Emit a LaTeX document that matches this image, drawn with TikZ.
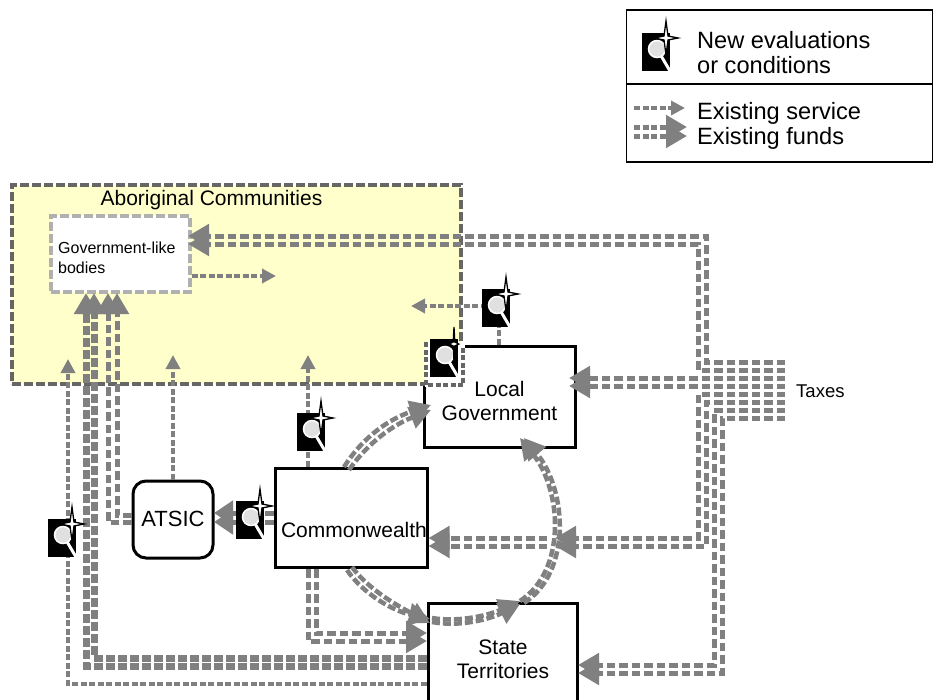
\documentclass[tikz,border=0pt]{standalone}
\usepackage{fontspec}
\setmainfont{Liberation Sans}
\usetikzlibrary{arrows.meta,calc}
\definecolor{flow}{HTML}{808080}
\definecolor{edge}{HTML}{666666}
\definecolor{soft}{HTML}{B0B0B0}
\definecolor{commyellow}{HTML}{FFFFCC}
\def\starw{1}
\tikzset{
  txt/.style={inner sep=0pt,text=black,align=center,font=\fontsize{21}{24}\selectfont},
  smalltxt/.style={inner sep=0pt,text=black,align=left,font=\fontsize{16}{20}\selectfont},
  legtxt/.style={inner sep=0pt,text=black,anchor=base west,font=\fontsize{23.6}{25}\selectfont},
  blackbox/.style={draw=black,fill=white,line width=3pt,inner sep=0pt},
  fund/.style={draw=flow,line width=5pt,dash pattern=on 8.5pt off 4pt,-{Triangle[length=21pt,width=23pt]}},
  heavyfund/.style={fund,line width=7pt,dash pattern=on 8.5pt off 3.5pt},
  curvefund/.style={fund,line width=4.5pt,dash pattern=on 8pt off 3pt,-{Triangle[length=21pt,width=22pt]}},
  service/.style={draw=flow,line width=3.5pt,dash pattern=on 6pt off 2.5pt,-{Triangle[length=14pt,width=14pt]}},
  evalicon/.pic={
    \fill[black] (0,0) rectangle (28,38);
    \draw[white,line width=3pt] (15,16) -- (28,38);
    \fill[black!12,draw=white,line width=1.5pt] (15,16) circle (8.5pt);
    \path[fill=white,draw=black,line width=1.3pt,shift={(24,5)},xscale=\starw]
      (0,-17) -- (2,-2) -- (12,0) -- (2,2) -- (0,17) -- (-2,2) -- (-12,0) -- (-2,-2) -- cycle;
  }
}
\begin{document}
\begin{tikzpicture}[x=1pt,y=-1pt]
\clip (0,0) rectangle (934,699);
\fill[white] (0,0) rectangle (934,699);

% legend
\node[draw=black,line width=1.5pt,minimum width=306pt,minimum height=152pt,inner sep=0pt] (legend) at (779.5,86) {};
\coordinate (divl) at (legend.west |- 0,84);
\coordinate (divr) at (legend.east |- 0,84);
\draw[black,line width=1.5pt] (divl) -- (divr);
\node[legtxt] (lt1) at (697,48) {New evaluations};
\node[legtxt] (lt2) at (697,73) {or conditions};
\node[legtxt] (lt3) at (697,119) {Existing service};
\node[legtxt] (lt4) at (697,144) {Existing funds};
\pic (legicon) at (642,33) {evalicon};
\coordinate (ls1) at (634,108);
\coordinate (le1) at (685,108);
\coordinate (ls2) at (634,127);
\coordinate (le2) at (687,127);
\coordinate (ls3) at (634,136);
\coordinate (le3) at (687,136);
\draw[service] (ls1) -- (le1);
\draw[fund,dash pattern=on 6pt off 2.5pt] (ls2) -- (le2);
\draw[fund,dash pattern=on 6pt off 2.5pt] (ls3) -- (le3);

% local government lies under the community area
\node[blackbox,minimum width=151pt,minimum height=101pt] (lg) at (499.5,396.5) {};

% community area
\node[draw=edge,fill=commyellow,line width=3.5pt,dash pattern=on 9pt off 3pt,minimum width=449pt,minimum height=199pt,inner sep=0pt] (abo) at (236.5,284.5) {};
\node[txt] (abotxt) at (211.5,200) {Aboriginal Communities};
\node[draw=soft,fill=white,line width=3.5pt,dash pattern=on 9pt off 3pt,minimum width=139pt,minimum height=76pt,inner sep=0pt] (gov) at (120.5,254) {};
\node[smalltxt,anchor=base west] (govtxt) at (58,273) {Government-like\\bodies};

% white notch round the icon
\coordinate (na) at (426,342);
\coordinate (nb) at (426,385);
\coordinate (nc) at (463,385);
\coordinate (nd) at (463,346);
\fill[white] (424.5,342) rectangle (465,387);
\draw[edge,line width=3.5pt,dash pattern=on 5pt off 2.5pt] (na) -- (nb) -- (nc) -- (nd);

% remaining boxes
\node[blackbox,rounded corners=13pt,minimum width=80pt,minimum height=77pt] (atsic) at (173,519.5) {};
\node[txt,font=\fontsize{22}{24}\selectfont] (atsictxt) at (173,519) {ATSIC};
\node[blackbox,minimum width=152pt,minimum height=99pt] (cw) at (351,517.5) {};
\node[txt] (cwtxt) at (354,530) {Commonwealth};
\node[blackbox,minimum width=149pt,minimum height=120pt] (st) at (502.5,663) {};
\node[txt] (sttxt) at (503,659) {State\\Territories};
\node[txt] (lgtxt) at (499.5,401) {Local\\Government};
\node[inner sep=0pt,anchor=base west,font=\fontsize{18.5}{20}\selectfont] (tax) at (796,397) {Taxes};

% funds from taxes
\begin{scope}[shorten <=11pt]
\draw[fund] (tax.west |- 0,362) -- (706,362) -- (706,236) -- (188,236);
\draw[fund] (tax.west |- 0,370) -- (698,370) -- (698,244) -- (188,244);
\draw[fund] (tax.west |- 0,378) -- (569,378);
\draw[fund] (tax.west |- 0,386) -- (569,386);
\draw[fund] (tax.west |- 0,394) -- (698,394) -- (698,538) -- (555,538);
\draw[fund] (tax.west |- 0,402) -- (706,402) -- (706,546) -- (555,546);
\draw[fund] (tax.west |- 0,410) -- (714,410) -- (714,665) -- (578,665);
\draw[fund] (tax.west |- 0,418) -- (722,418) -- (722,673) -- (578,673);
\end{scope}
\coordinate (m1) at (547,538);
\coordinate (m2) at (547,546);
\draw[fund] (m1) -- (cw.east |- 0,538);
\draw[fund] (m2) -- (cw.east |- 0,546);

% commonwealth to state, straight
\draw[fund] (308,569) -- (308,641) -- (427,641);
\draw[fund] (316,569) -- (316,633) -- (427,633);

% state to government-like bodies
\draw[heavyfund] (st.west |- 0,658) -- (94,658) -- (94,293);
\draw[heavyfund] (st.west |- 0,666) -- (86,666) -- (86,293);

% ATSIC to government-like bodies
\draw[fund] (atsic.west |- 0,515) -- (117,515) -- (117,293);
\draw[fund] (atsic.west |- 0,522) -- (108,522) -- (108,293);

% commonwealth to ATSIC
\draw[fund,-{Triangle[length=19pt,width=24pt]}] (cw.west |- 0,513) -- (214,513);
\draw[fund,-{Triangle[length=19pt,width=24pt]}] (cw.west |- 0,522) -- (214,522);

% curved funds
\draw[curvefund] (344,467) .. controls (359,443) and (383,421) .. (431,405);
\draw[curvefund] (349,470) .. controls (364,448) and (388,427) .. (431,410);
\draw[curvefund] (347,570) .. controls (364,595) and (394,611) .. (430,619);
\draw[curvefund] (352,567) .. controls (369,590) and (398,606) .. (430,623);
\draw[curvefund] (432,618) .. controls (455,622) and (485,617) .. (520,601);
\draw[curvefund] (432,622) .. controls (458,627) and (488,620) .. (520,604);
\draw[curvefund] (520,601) .. controls (567,570) and (562,490) .. (520,438);
\draw[curvefund] (524,603) .. controls (572,572) and (567,490) .. (524,438);

% services
\draw[service] (st.west |- 0,684) -- (68,684) -- (68,359);
\draw[service] (atsic.north) -- (173,355);
\draw[service,line width=4.5pt] (cw.north -| 308,0) -- (308,355);
\draw[service] (gov.east |- 0,276) -- (276,276);
\draw[service] (lg.north -| 499,0) -- (499,306) -- (411,306);

% evaluation icons
\pic (i1) at (482,289) {evalicon};
{\def\starw{.4}\pic (i2) at (430,339) {evalicon};}
\pic (i3) at (297,413) {evalicon};
\pic (i4) at (236,501) {evalicon};
\pic (i5) at (48,519) {evalicon};
\end{tikzpicture}
\end{document}
